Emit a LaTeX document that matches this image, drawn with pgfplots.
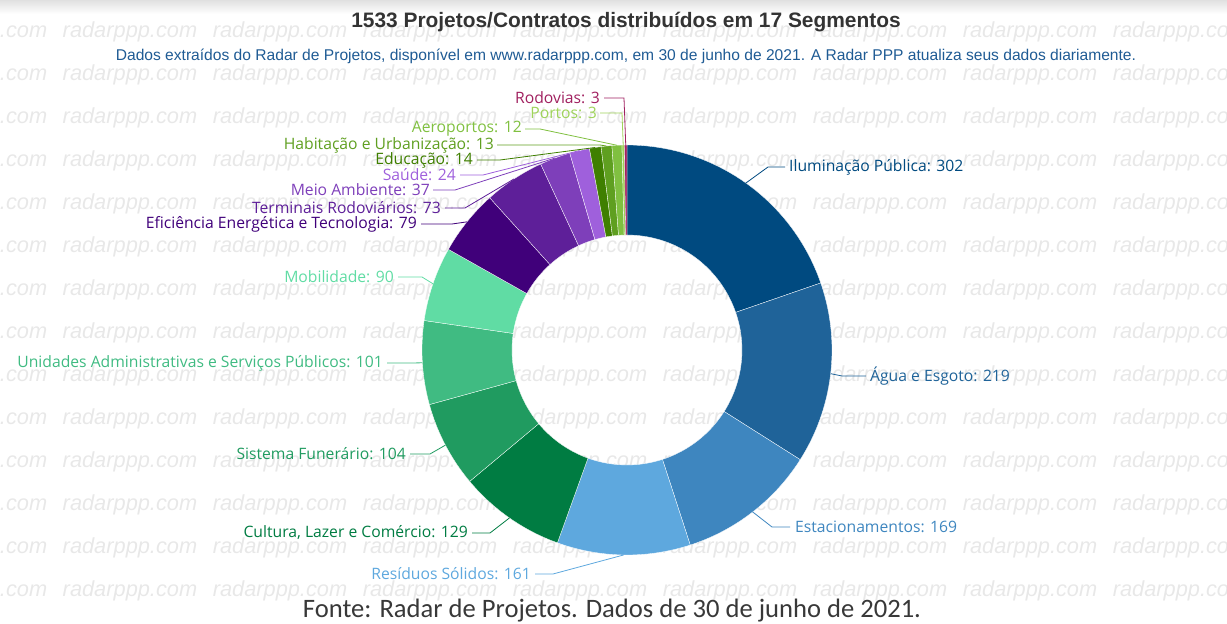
\documentclass[border=0pt]{standalone}
\usepackage{fontspec}
\usepackage{pgfplots}
\pgfplotsset{compat=1.18}
\setmainfont{Liberation Sans}
\newfontfamily\lblfont{Open Sans}
\newfontfamily\footfont{Carlito}
\newcommand\lblf{\lblfont\fontsize{15.7}{18}\selectfont}

\definecolor{c1}{HTML}{004A80}
\definecolor{c2}{HTML}{1F6399}
\definecolor{c3}{HTML}{3E86BF}
\definecolor{c4}{HTML}{5EA8DE}
\definecolor{c5}{HTML}{007C42}
\definecolor{c6}{HTML}{209B60}
\definecolor{c7}{HTML}{40BB82}
\definecolor{c8}{HTML}{60DCA4}
\definecolor{c9}{HTML}{40007A}
\definecolor{c10}{HTML}{5E1F99}
\definecolor{c11}{HTML}{7E3FBA}
\definecolor{c12}{HTML}{9F60DC}
\definecolor{c13}{HTML}{3F7F00}
\definecolor{c14}{HTML}{5F9F20}
\definecolor{c15}{HTML}{80C040}
\definecolor{c16}{HTML}{9FD35A}
\definecolor{c17}{HTML}{A0205F}
\definecolor{subc}{HTML}{1F5B94}
\definecolor{wm}{HTML}{E8E8E8}

\def\cx{627}\def\cy{274}\def\R{205}\def\r{115}\def\total{1533}
\gdef\cum{0}

% #1 value, #2 colour, #3 label, #4 anchor, #5 elbow x, #6 line end x, #7 label y (image px), #8 text x
\newcommand\slice[8]{%
  \pgfmathsetmacro\aone{90-\cum/\total*360}%
  \pgfmathsetmacro\atwo{90-(\cum+#1)/\total*360}%
  \pgfmathsetmacro\da{(\atwo)-(\aone)}%
  \pgfmathsetmacro\amid{(\aone)+(\da)/2}%
  \pgfmathsetmacro\ox{\cx+\R*cos(\amid)}%
  \pgfmathsetmacro\oy{\cy+\R*sin(\amid)}%
  \pgfmathsetmacro\ly{624-#7}%
  \edef\temp{%
    \noexpand\addplot[fill=#2, draw=white, line width=0.3pt, samples at={0,1,...,82}]
      ({\cx+((x<=40)?\R:((x<=81)?\r:\R))*cos((x<=40)?((\aone)+(\da)*x/40):((x<=81)?((\atwo)-(\da)*(x-41)/40):(\aone)))},
       {\cy+((x<=40)?\R:((x<=81)?\r:\R))*sin((x<=40)?((\aone)+(\da)*x/40):((x<=81)?((\atwo)-(\da)*(x-41)/40):(\aone)))});
    \noexpand\addplot[#2, line width=0.8pt] coordinates {(\ox,\oy) (#5,\ly) (#6,\ly)};
    \noexpand\node[anchor=#4, text=#2, font=\noexpand\lblf, inner sep=0pt] at (axis cs:#8,\ly) {#3};
  }\temp
  \pgfmathsetmacro\newcum{\cum+#1}\global\let\cum\newcum
}

\begin{document}
\begin{tikzpicture}[x=1pt,y=1pt]
% top shadow band
\shade[top color=black!12, bottom color=white] (0,610) rectangle (1227,624);
% watermark
\foreach \yy in {0,...,13}{
  \foreach \xx in {0,...,8}{
    \node[font=\itshape\fontsize{21.8}{24}\selectfont, text=wm] at ({-20+150*\xx},{624-32-43*\yy}) {radarppp.com};
  }
}
\begin{axis}[x=1pt, y=1pt, xmin=0, xmax=1227, ymin=0, ymax=624, hide axis, clip=false]
\slice{302}{c1}{Iluminação Pública: 302}{west}{768}{785}{167}{789}
\slice{219}{c2}{Água e Esgoto: 219}{west}{842}{866}{376}{870}
\slice{169}{c3}{Estacionamentos: 169}{west}{772}{790}{527}{795}
\slice{161}{c4}{Resíduos Sólidos: 161}{east}{553}{535}{574}{531}
\slice{129}{c5}{Cultura, Lazer e Comércio: 129}{east}{490}{472}{533}{468}
\slice{104}{c6}{Sistema Funerário: 104}{east}{430}{410}{454}{406}
\slice{101}{c7}{Unidades Administrativas e Serviços Públicos: 101}{east}{410}{387}{363}{383}
\slice{90}{c8}{Mobilidade: 90}{east}{422}{398}{277}{394}
\slice{79}{c9}{Eficiência Energética e Tecnologia: 79}{east}{452}{421}{224}{417}
\slice{73}{c10}{Terminais Rodoviários: 73}{east}{465}{445}{208}{441}
\slice{37}{c11}{Meio Ambiente: 37}{east}{455}{433}{190}{430}
\slice{24}{c12}{Saúde: 24}{east}{483}{460}{175}{456}
\slice{14}{c13}{Educação: 14}{east}{500}{477}{160}{473}
\slice{13}{c14}{Habitação e Urbanização: 13}{east}{600}{497}{145}{494}
\slice{12}{c15}{Aeroportos: 12}{east}{540}{525}{129}{522}
\slice{3}{c16}{Portos: 3}{east}{622}{600}{113}{597}
\slice{3}{c17}{Rodovias: 3}{east}{624}{604}{98}{600}
\end{axis}
\node[font=\bfseries\fontsize{20.9}{23}\selectfont, text=black!80] at (626,602) {1533 Projetos/Contratos distribuídos em 17 Segmentos};
\node[font=\fontsize{15.6}{18}\selectfont, text=subc] at (626,568) {Dados extraídos do Radar de Projetos, disponível em www.radarppp.com, em 30 de junho de 2021. A Radar PPP atualiza seus dados diariamente.};
\node[font=\footfont\fontsize{26.6}{28}\selectfont, text=black!78] at (612,13) {Fonte: Radar de Projetos. Dados de 30 de junho de 2021.};
\pgfresetboundingbox
\path (0,0) rectangle (1227,624);
\end{tikzpicture}
\end{document}
